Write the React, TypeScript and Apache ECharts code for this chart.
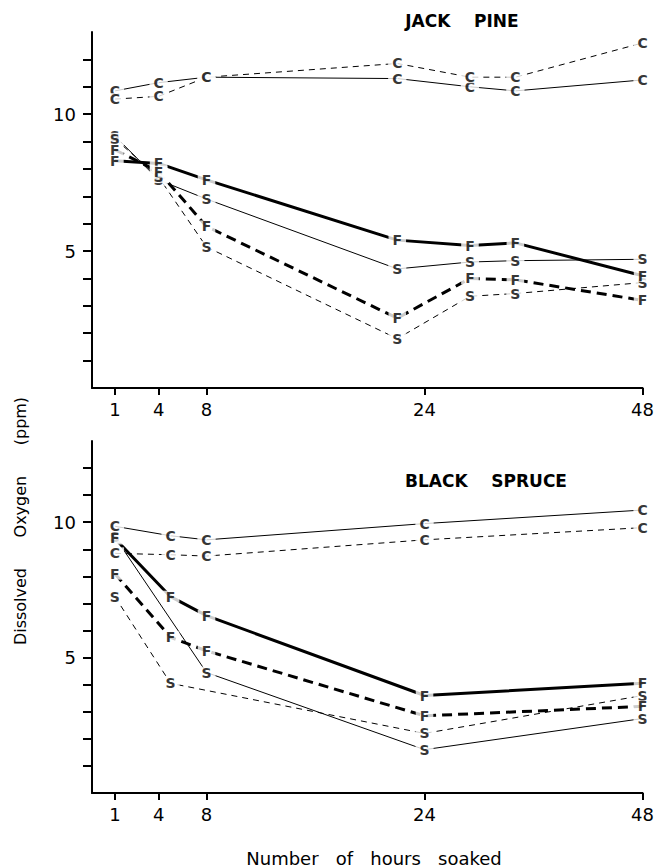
import React, { useEffect, useRef } from "react";
import * as echarts from "echarts";

// x axis: the original axis is not linear; tick hours and their relative axis positions (% of axis length)
const X_TICK_HOURS = [1, 4, 8, 24, 48];
const X_TICK_POS = [4.16, 12.1, 20.8, 60.4, 100];
const Y_LABEL_VALUES = [5, 10];
const Y_TICK_VALUES = [1, 2, 3, 4, 5, 6, 7, 8, 9, 10, 11, 12];

// Jack Pine
const JP_HOURS = [1, 4, 8, 22, 29, 34, 48];
const JP_C_SOLID = [10.85, 11.15, 11.35, 11.3, 11.0, 10.85, 11.25];
const JP_C_DASHED = [10.55, 10.65, 11.35, 11.85, 11.35, 11.35, 12.6];
const JP_F_SOLID = [8.3, 8.2, 7.6, 5.4, 5.2, 5.3, 4.1];
const JP_F_DASHED = [8.7, 7.9, 5.9, 2.55, 4.0, 3.95, 3.2];
const JP_S_SOLID = [9.2, 7.6, 6.9, 4.35, 4.6, 4.65, 4.7];
const JP_S_DASHED = [9.1, 7.7, 5.15, 1.8, 3.35, 3.45, 3.85];

// Black Spruce
const BS_HOURS = [1, 5, 8, 24, 48];
const BS_C_SOLID = [9.85, 9.5, 9.35, 9.95, 10.45];
const BS_C_DASHED = [8.85, 8.8, 8.75, 9.35, 9.8];
const BS_F_SOLID = [9.4, 7.25, 6.55, 3.6, 4.05];
const BS_F_DASHED = [8.1, 5.75, 5.25, 2.85, 3.2];
const BS_S_SOLID = [9.45, null, 4.45, 1.6, 2.75];
const BS_S_DASHED = [7.25, 4.05, null, 2.2, 3.6];

function hourToPos(h: number): number {
  const n = X_TICK_HOURS.length;
  for (let i = 0; i < n - 1; i++) {
    if (h <= X_TICK_HOURS[i + 1] || i === n - 2) {
      const h0 = X_TICK_HOURS[i], h1 = X_TICK_HOURS[i + 1];
      const p0 = X_TICK_POS[i], p1 = X_TICK_POS[i + 1];
      return p0 + ((h - h0) / (h1 - h0)) * (p1 - p0);
    }
  }
  return 0;
}

const FONT = "DejaVu Sans";

type Kind = "thinSolid" | "thinDashed" | "thickSolid" | "thickDashed";

function lineStyleFor(kind: Kind) {
  switch (kind) {
    case "thinSolid":
      return { color: "#000", width: 1, type: "solid" };
    case "thinDashed":
      return { color: "#000", width: 1, type: [6, 5] };
    case "thickSolid":
      return { color: "#000", width: 3, type: "solid" };
    case "thickDashed":
      return { color: "#000", width: 3, type: [10, 6] };
  }
}

function buildPairs(hours: number[], vals: (number | null)[]) {
  const out: number[][] = [];
  hours.forEach((h, i) => {
    const v = vals[i];
    if (v !== null && v !== undefined) out.push([hourToPos(h), v]);
  });
  return out;
}

function seriesPair(hours: number[], vals: (number | null)[], letter: string, kind: Kind, g: number) {
  const data = buildPairs(hours, vals);
  return [
    {
      type: "line",
      xAxisIndex: g,
      yAxisIndex: g,
      data,
      symbol: "none",
      showSymbol: false,
      lineStyle: lineStyleFor(kind),
      z: 2,
      silent: true,
    },
    {
      type: "scatter",
      xAxisIndex: g,
      yAxisIndex: g,
      data,
      symbolSize: 1,
      itemStyle: { color: "#fff" },
      z: 5,
      silent: true,
      label: {
        show: true,
        position: "inside",
        formatter: letter,
        color: "#000",
        fontFamily: FONT,
        fontSize: 14,
        fontWeight: "bold",
        lineHeight: 12,
        backgroundColor: "#fff",
        padding: [0, 4],
      },
    },
  ];
}

function xAxisFor(g: number) {
  return {
    type: "value",
    gridIndex: g,
    min: 0,
    max: 100,
    axisLine: { show: true, lineStyle: { color: "#000", width: 2 } },
    axisTick: {
      show: true,
      customValues: X_TICK_POS,
      length: 7,
      lineStyle: { color: "#000", width: 2 },
    },
    axisLabel: {
      customValues: X_TICK_POS,
      formatter: (v: number) => {
        const idx = X_TICK_POS.findIndex((p) => Math.abs(p - v) < 0.01);
        return idx >= 0 ? String(X_TICK_HOURS[idx]) : "";
      },
      color: "#000",
      fontFamily: FONT,
      fontSize: 18,
      margin: 12,
    },
    splitLine: { show: false },
  };
}

function yAxisFor(g: number) {
  return {
    type: "value",
    gridIndex: g,
    min: 0,
    max: 13,
    axisLine: { show: true, lineStyle: { color: "#000", width: 2 } },
    axisTick: {
      show: true,
      customValues: Y_TICK_VALUES,
      length: 9,
      lineStyle: { color: "#000", width: 2 },
    },
    axisLabel: {
      customValues: Y_LABEL_VALUES,
      color: "#000",
      fontFamily: FONT,
      fontSize: 18,
      margin: 16,
    },
    splitLine: { show: false },
  };
}

export default function App() {
  const ref = useRef<HTMLDivElement>(null);
  useEffect(() => {
    if (!ref.current) return;
    const chart = echarts.init(ref.current, undefined, { renderer: "svg" });
    const series = [
      ...seriesPair(JP_HOURS, JP_C_SOLID, "C", "thinSolid", 0),
      ...seriesPair(JP_HOURS, JP_C_DASHED, "C", "thinDashed", 0),
      ...seriesPair(JP_HOURS, JP_S_SOLID, "S", "thinSolid", 0),
      ...seriesPair(JP_HOURS, JP_S_DASHED, "S", "thinDashed", 0),
      ...seriesPair(JP_HOURS, JP_F_SOLID, "F", "thickSolid", 0),
      ...seriesPair(JP_HOURS, JP_F_DASHED, "F", "thickDashed", 0),
      ...seriesPair(BS_HOURS, BS_C_SOLID, "C", "thinSolid", 1),
      ...seriesPair(BS_HOURS, BS_C_DASHED, "C", "thinDashed", 1),
      ...seriesPair(BS_HOURS, BS_S_SOLID, "S", "thinSolid", 1),
      ...seriesPair(BS_HOURS, BS_S_DASHED, "S", "thinDashed", 1),
      ...seriesPair(BS_HOURS, BS_F_SOLID, "F", "thickSolid", 1),
      ...seriesPair(BS_HOURS, BS_F_DASHED, "F", "thickDashed", 1),
    ];
    chart.setOption({
      animation: false,
      backgroundColor: "#fff",
      grid: [
        { left: 92, top: 32, width: 553, height: 356 },
        { left: 92, top: 441, width: 553, height: 352 },
      ],
      xAxis: [xAxisFor(0), xAxisFor(1)],
      yAxis: [yAxisFor(0), yAxisFor(1)],
      graphic: [
        {
          type: "text",
          x: 462,
          y: 21,
          style: {
            text: "JACK    PINE",
            fontFamily: FONT,
            fontSize: 17,
            fontWeight: "bold",
            fill: "#000",
            align: "center",
            verticalAlign: "middle",
          },
        },
        {
          type: "text",
          x: 486,
          y: 481,
          style: {
            text: "BLACK    SPRUCE",
            fontFamily: FONT,
            fontSize: 17,
            fontWeight: "bold",
            fill: "#000",
            align: "center",
            verticalAlign: "middle",
          },
        },
        {
          type: "text",
          x: 20,
          y: 521,
          rotation: Math.PI / 2,
          style: {
            text: "Dissolved      Oxygen      (ppm)",
            fontFamily: FONT,
            fontSize: 16,
            fill: "#000",
            align: "center",
            verticalAlign: "middle",
          },
        },
        {
          type: "text",
          x: 374,
          y: 858,
          style: {
            text: "Number   of   hours   soaked",
            fontFamily: FONT,
            fontSize: 18,
            fill: "#000",
            align: "center",
            verticalAlign: "middle",
          },
        },
      ],
      series,
    });
    return () => chart.dispose();
  }, []);
  return (
    <div
      ref={ref}
      style={{ width: 657, height: 867, position: "absolute", left: 0, top: 0, background: "#fff" }}
    />
  );
}
